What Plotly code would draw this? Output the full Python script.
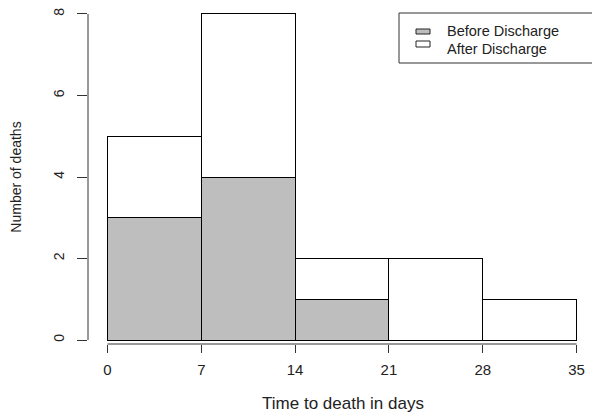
import plotly.graph_objects as go

bin_starts = [0, 7, 14, 21, 28]
bin_width = 7
before_discharge = [3, 4, 1, 0, 0]
after_discharge = [2, 4, 1, 2, 1]
x_ticks = [0, 7, 14, 21, 28, 35]
y_ticks = [0, 2, 4, 6, 8]
series_names = ["Before Discharge", "After Discharge"]
series_colors = ["#BEBEBE", "white"]

centers = [s + bin_width / 2 for s in bin_starts]
FONT = "Liberation Sans, Arial, sans-serif"

# plot area geometry (figure pixels)
W, H = 600, 419
L, R, T, B = 80, 10, 2, 83
PW, PH = W - L - R, H - T - B
X_RANGE = [-1.455, 36.6]
Y_RANGE = [-0.098, 8.098]


def px(x):
    return (x - L) / PW


def py(y):
    return (H - B - y) / PH


fig = go.Figure()
for name, vals, col in zip(series_names, [before_discharge, after_discharge], series_colors):
    fig.add_trace(go.Bar(x=centers, y=vals, width=bin_width, name=name,
                         marker=dict(color=col, line=dict(color="black", width=1))))

shapes = [
    dict(type="line", xref="x", yref="paper", x0=x_ticks[0], x1=x_ticks[-1], y0=0, y1=0,
         line=dict(color="#333", width=1)),
    dict(type="line", xref="paper", yref="y", x0=0, x1=0, y0=y_ticks[0], y1=y_ticks[-1],
         line=dict(color="#333", width=1)),
    # legend box
    dict(type="rect", xref="paper", yref="paper", x0=px(391), x1=px(590), y0=py(55), y1=py(5),
         line=dict(color="#333", width=1), fillcolor="white", layer="above"),
]
annotations = []
sym_rows = [(21, 26), (33, 39)]
text_split = 32.3
for i, (name, col, (s0, s1)) in enumerate(zip(series_names, series_colors, sym_rows)):
    shapes.append(dict(type="rect", xref="paper", yref="paper", x0=px(408), x1=px(422),
                       y0=py(s1), y1=py(s0), line=dict(color="#222", width=1),
                       fillcolor=col, layer="above"))
    annotations.append(dict(text=name, xref="paper", yref="paper", x=px(437.5),
                            y=py(text_split), xanchor="left",
                            yanchor="bottom" if i == 0 else "top", borderpad=0,
                            showarrow=False, font=dict(size=14.5, color="#222")))

fig.update_layout(
    barmode="stack",
    width=W, height=H,
    margin=dict(l=L, r=R, t=T, b=B),
    plot_bgcolor="white", paper_bgcolor="white",
    font=dict(family=FONT, size=14, color="#222"),
    showlegend=False,
    xaxis=dict(range=X_RANGE, tickvals=x_ticks, ticks="outside", ticklen=8,
               tickcolor="#333", showgrid=False, zeroline=False, showline=False,
               automargin=False, tickfont=dict(size=15), ticklabelstandoff=4,
               ticklabeloverflow="allow",
               title=dict(text="Time to death in days", font=dict(size=17), standoff=20)),
    yaxis=dict(range=Y_RANGE, tickvals=y_ticks, ticks="outside", ticklen=10,
               tickcolor="#333", showgrid=False, zeroline=False, showline=False,
               automargin=False, tickangle=-90, tickfont=dict(size=14),
               ticklabelstandoff=7, ticklabeloverflow="allow",
               title=dict(text="Number of deaths", font=dict(size=14), standoff=28)),
    shapes=shapes,
    annotations=annotations,
)

fig.write_html("out.html")
